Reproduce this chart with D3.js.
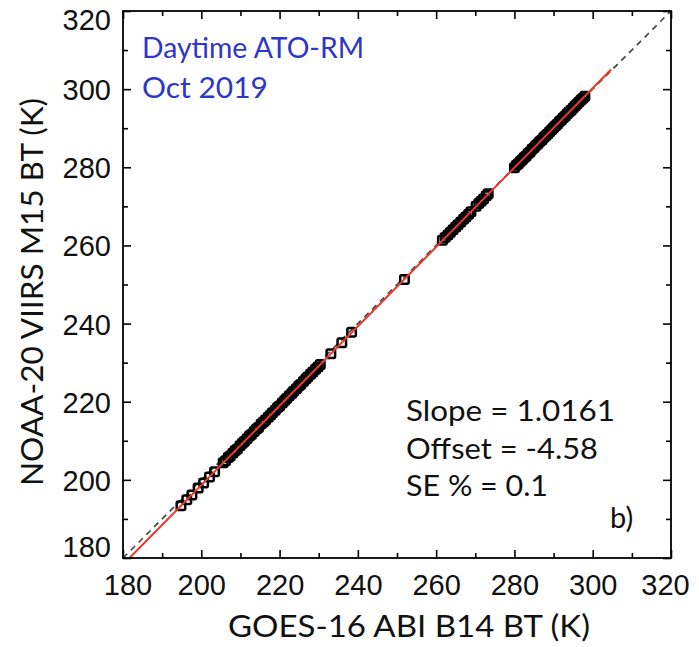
<!DOCTYPE html>
<html>
<head>
<meta charset="utf-8">
<script src="https://cdn.jsdelivr.net/npm/d3@7"></script>
<style>
  html, body { margin: 0; padding: 0; background: #fff; }
  svg { display: block; }
</style>
</head>
<body>
<svg id="chart" width="699" height="647"></svg>
<script>
// Brightness temperatures (K) of collocated pixels
const goesBT = [
  194.8, 196.3, 197.6, 199.2, 200.6, 202.1, 203.4,
  205.6, 206.2, 206.9, 207.4, 208.1, 208.7, 209.2, 209.9, 210.5, 211.0,
  211.7, 212.3, 212.8, 213.5, 214.1, 214.6, 215.3, 215.9, 216.4, 217.1,
  217.7, 218.2, 218.9, 219.5, 220.0, 220.7, 221.3, 221.8, 222.5, 223.1,
  223.6, 224.3, 224.9, 225.4, 226.1, 226.7, 227.2, 227.9, 228.5, 229.2,
  229.8, 230.4,
  233.1, 235.9, 238.4,
  251.9,
  261.6, 262.3, 263.0, 263.6, 264.3, 265.0, 265.6, 266.3, 267.0, 267.6,
  268.3, 268.9, 270.2, 270.9, 271.5, 272.1, 272.8, 273.3,
  280.0, 280.5, 281.0, 281.5, 282.0, 282.5, 283.0, 283.5, 284.0, 284.5,
  285.0, 285.5, 286.0, 286.5, 287.0, 287.5, 288.0, 288.5, 289.0, 289.5,
  290.0, 290.5, 291.0, 291.5, 292.0, 292.5, 293.0, 293.5, 294.0, 294.5,
  295.0, 295.5, 296.0, 296.5, 297.0, 297.5, 298.0
];
const viirsBT = [
  193.4, 194.9, 196.1, 197.9, 199.2, 200.7, 202.1,
  204.4, 204.9, 205.7, 206.1, 206.9, 207.5, 207.9, 208.7, 209.4, 209.8,
  210.5, 211.2, 211.6, 212.4, 213.0, 213.4, 214.3, 214.8, 215.3, 216.0,
  216.6, 217.2, 217.8, 218.5, 218.9, 219.7, 220.3, 220.8, 221.5, 222.1,
  222.7, 223.3, 224.0, 224.4, 225.2, 225.8, 226.3, 227.0, 227.6, 228.3,
  228.9, 229.5,
  232.3, 235.1, 237.8,
  251.3,
  261.3, 262.0, 262.7, 263.3, 264.0, 264.7, 265.3, 266.0, 266.7, 267.3,
  268.0, 268.6, 270.0, 270.7, 271.3, 271.9, 272.7, 273.2,
  279.9, 280.5, 280.9, 281.5, 281.9, 282.5, 282.9, 283.5, 283.9, 284.6,
  285.0, 285.6, 286.0, 286.6, 287.0, 287.6, 288.1, 288.5, 289.1, 289.6,
  290.1, 290.6, 291.1, 291.7, 292.1, 292.7, 293.1, 293.7, 294.2, 294.6,
  295.2, 295.7, 296.2, 296.7, 297.2, 297.7, 298.2
];

// Regression statistics
const fitSlope = 1.0161;
const fitOffset = -4.58;
const fitSE = 0.1;
const fitXEnd = 304.7;

// Axis ticks
const majorTicks = [180, 200, 220, 240, 260, 280, 300, 320];
const minorTicks = [190, 210, 230, 250, 270, 290, 310];
const axisDomain = [180, 320];

const titleLines = ["Daytime ATO-RM", "Oct 2019"];
const xTitle = "GOES-16 ABI B14 BT (K)";
const yTitle = "NOAA-20 VIIRS M15 BT (K)";
const panelTag = "b)";

const svg = d3.select("#chart");
const L = 123, R = 671, T = 11, B = 558;

const x = d3.scaleLinear().domain(axisDomain).range([L, R]);
const y = d3.scaleLinear().domain(axisDomain).range([B, T]);

const tickFont = "'Liberation Sans', Arial, sans-serif";
const textFont = "Lato, 'Open Sans', sans-serif";

// 1:1 reference line
svg.append("line")
  .attr("x1", x(axisDomain[0])).attr("y1", y(axisDomain[0]))
  .attr("x2", x(axisDomain[1])).attr("y2", y(axisDomain[1]))
  .attr("stroke", "#444").attr("stroke-width", 1.6)
  .attr("stroke-dasharray", "6,5");

// collocated points as open squares
const ms = 8.5;
svg.append("g").selectAll("rect")
  .data(goesBT.map((g, i) => [g, viirsBT[i]]))
  .join("rect")
  .attr("x", d => x(d[0]) - ms / 2)
  .attr("y", d => y(d[1]) - ms / 2)
  .attr("width", ms).attr("height", ms)
  .attr("rx", 1.5)
  .attr("fill", "none")
  .attr("stroke", "#000").attr("stroke-width", 2.5);

// regression line
const xStart = (axisDomain[0] - fitOffset) / fitSlope;
svg.append("line")
  .attr("x1", x(xStart)).attr("y1", y(fitSlope * xStart + fitOffset))
  .attr("x2", x(fitXEnd)).attr("y2", y(fitSlope * fitXEnd + fitOffset))
  .attr("stroke", "#e8392c").attr("stroke-width", 2);

// axes: major ticks with labels, minor ticks without, ticks point inward
function styleAxis(g) {
  g.select(".domain").remove();
  g.selectAll(".tick line").attr("stroke", "#000").attr("stroke-width", 1.6);
  g.selectAll("text").attr("font-family", tickFont).attr("font-size", 29).attr("fill", "#111");
}
const clamp = (v, lo, hi) => Math.max(lo, Math.min(hi, v));

const gxB = svg.append("g").attr("transform", `translate(0,${B})`)
  .call(d3.axisBottom(x).tickValues(majorTicks).tickSize(-8).tickPadding(14).tickFormat(d3.format("d")))
  .call(styleAxis);
gxB.selectAll(".tick text")
  .attr("dy", null)
  .attr("y", 37)
  .attr("dx", d => clamp(x(d), L + 4.5, R - 6) - x(d));

svg.append("g").attr("transform", `translate(0,${B})`)
  .call(d3.axisBottom(x).tickValues(minorTicks).tickSize(-5).tickFormat(""))
  .call(styleAxis);
svg.append("g").attr("transform", `translate(0,${T})`)
  .call(d3.axisTop(x).tickValues(majorTicks).tickSize(-8).tickFormat(""))
  .call(styleAxis);
svg.append("g").attr("transform", `translate(0,${T})`)
  .call(d3.axisTop(x).tickValues(minorTicks).tickSize(-5).tickFormat(""))
  .call(styleAxis);

const gyL = svg.append("g").attr("transform", `translate(${L},0)`)
  .call(d3.axisLeft(y).tickValues(majorTicks).tickSize(-8).tickPadding(12).tickFormat(d3.format("d")))
  .call(styleAxis);
gyL.selectAll(".tick text")
  .attr("x", -12)
  .attr("dy", d => (clamp(y(d), T + 8, B - 12) - y(d) + 10.5) + "px");

svg.append("g").attr("transform", `translate(${L},0)`)
  .call(d3.axisLeft(y).tickValues(minorTicks).tickSize(-5).tickFormat(""))
  .call(styleAxis);
svg.append("g").attr("transform", `translate(${R},0)`)
  .call(d3.axisRight(y).tickValues(majorTicks).tickSize(-8).tickFormat(""))
  .call(styleAxis);
svg.append("g").attr("transform", `translate(${R},0)`)
  .call(d3.axisRight(y).tickValues(minorTicks).tickSize(-5).tickFormat(""))
  .call(styleAxis);

// plot frame
svg.append("rect")
  .attr("x", L).attr("y", T).attr("width", R - L).attr("height", B - T)
  .attr("fill", "none").attr("stroke", "#000").attr("stroke-width", 1.8);

// axis titles
svg.append("text")
  .attr("x", 409).attr("y", 637)
  .attr("text-anchor", "middle")
  .attr("font-family", textFont).attr("font-size", 31).attr("fill", "#111")
  .attr("textLength", 362).attr("lengthAdjust", "spacingAndGlyphs")
  .text(xTitle);

svg.append("text")
  .attr("transform", "translate(43,292) rotate(-90)")
  .attr("text-anchor", "middle")
  .attr("font-family", textFont).attr("font-size", 31).attr("fill", "#111")
  .attr("textLength", 388).attr("lengthAdjust", "spacingAndGlyphs")
  .text(yTitle);

// panel title
const titleWidths = [222, 126];
svg.append("g").selectAll("text")
  .data(titleLines)
  .join("text")
  .attr("x", 142).attr("y", (d, i) => 58 + i * 40)
  .attr("font-family", textFont).attr("font-size", 29.5).attr("fill", "#2e35c9")
  .attr("textLength", (d, i) => titleWidths[i]).attr("lengthAdjust", "spacingAndGlyphs")
  .text(d => d);

// regression statistics
const statLines = [
  `Slope = ${fitSlope.toFixed(4)}`,
  `Offset = ${fitOffset.toFixed(2)}`,
  `SE % = ${fitSE.toFixed(1)}`
];
const statWidths = [209, 192, 142];
svg.append("g").selectAll("text")
  .data(statLines)
  .join("text")
  .attr("x", 406).attr("y", (d, i) => 421 + i * 37.5)
  .attr("font-family", textFont).attr("font-size", 29).attr("fill", "#111")
  .attr("textLength", (d, i) => statWidths[i]).attr("lengthAdjust", "spacingAndGlyphs")
  .text(d => d);

svg.append("text")
  .attr("x", 610).attr("y", 528)
  .attr("font-family", textFont).attr("font-size", 29).attr("fill", "#111")
  .text(panelTag);
</script>
</body>
</html>
